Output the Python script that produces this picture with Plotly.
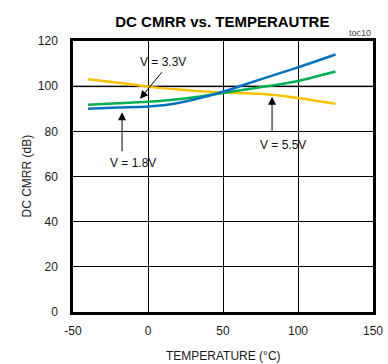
import plotly.graph_objects as go

temp = [-40, -20, 0, 15, 30, 50, 75, 100, 125]
v18 = [90.0, 90.5, 91.0, 92.0, 94.0, 97.5, 103.0, 108.3, 114.0]
v33 = [91.8, 92.4, 93.1, 93.9, 95.0, 97.0, 99.5, 102.3, 106.5]
v55 = [103.1, 101.5, 99.8, 98.8, 98.0, 97.2, 96.6, 94.8, 92.2]

x_ticks = [-50, 0, 50, 100, 150]
y_ticks = [0, 20, 40, 60, 80, 100, 120]

FONT = "Liberation Sans, Arial, sans-serif"
W, H = 388, 364
L, R, T, B = 73, 15, 41, 52

fig = go.Figure()
# gray 100 dB reference line
fig.add_shape(type="line", xref="x", yref="y", x0=-50, x1=150, y0=100, y1=100,
              line=dict(color="#808080", width=2), layer="below")

for y, c in [(v55, "#ffc000"), (v33, "#00b050"), (v18, "#0070c0")]:
    fig.add_trace(go.Scatter(x=temp, y=y, mode="lines",
                             line=dict(color=c, width=2.5, shape="spline", smoothing=0.8),
                             showlegend=False, hoverinfo="skip"))

arrows = [
    # tip x, tip y, tail x, tail y
    (-5.3, 94.4, 10, 106.8),
    (-17.3, 88.5, -17.3, 70.5),
    (82.7, 95.3, 82.7, 79.4),
]
for tx, ty, ax, ay in arrows:
    fig.add_annotation(x=tx, y=ty, ax=ax, ay=ay, xref="x", yref="y", axref="x", ayref="y",
                       text="", showarrow=True, arrowhead=2, arrowsize=1.6, arrowwidth=1,
                       arrowcolor="black")

labels = [("V = 3.3V", 10, 110.7), ("V = 1.8V", -10.3, 66.0), ("V = 5.5V", 90, 74.1)]
for t, x, y in labels:
    fig.add_annotation(x=x, y=y, xref="x", yref="y", text=t, showarrow=False,
                       font=dict(family=FONT, size=12, color="#111"))

fig.add_annotation(x=1, y=1, xref="paper", yref="paper", xanchor="right", yanchor="bottom",
                   yshift=1, text="toc10", showarrow=False,
                   font=dict(family=FONT, size=9, color="#444"))

# axis titles
fig.add_annotation(x=(L + (W - R - L) / 2 - L) / (W - R - L), y=-(356 - (H - B)) / (H - T - B),
                   xref="paper", yref="paper", text="TEMPERATURE (°C)", showarrow=False,
                   xanchor="center", yanchor="middle",
                   font=dict(family=FONT, size=12, color="#1a1a1a"))
fig.add_annotation(x=-(L - 26) / (W - R - L), y=0.5, xref="paper", yref="paper",
                   text="DC CMRR (dB)", showarrow=False, textangle=-90,
                   xanchor="center", yanchor="middle",
                   font=dict(family=FONT, size=12, color="#1a1a1a"))

fig.update_layout(
    width=W, height=H,
    margin=dict(l=L, r=R, t=T, b=B, autoexpand=False),
    paper_bgcolor="white", plot_bgcolor="white",
    title=dict(text="<b>DC CMRR vs. TEMPERAUTRE</b>", x=0.573, xanchor="center",
               y=1 - 22 / H, yanchor="middle",
               font=dict(family=FONT, size=15, color="black")),
    font=dict(family=FONT, size=12, color="#1a1a1a"),
)
fig.update_xaxes(range=[-50, 150], tickvals=x_ticks, ticktext=[str(v) for v in x_ticks],
                 showgrid=True, gridcolor="black", gridwidth=1,
                 showline=True, linecolor="black", linewidth=2.5, mirror=True,
                 ticks="outside", ticklen=6, tickcolor="rgba(0,0,0,0)",
                 zeroline=False, automargin=False)
fig.update_yaxes(range=[0, 120], tickvals=y_ticks, ticktext=[str(v) for v in y_ticks],
                 showgrid=True, gridcolor="black", gridwidth=1,
                 showline=True, linecolor="black", linewidth=2.5, mirror=True,
                 ticks="outside", ticklen=10, tickcolor="rgba(0,0,0,0)",
                 zeroline=False, automargin=False)

fig.write_html("out.html")
